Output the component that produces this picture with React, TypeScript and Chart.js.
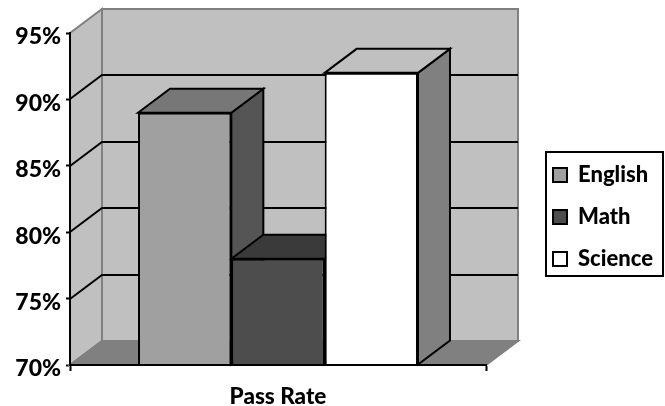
import React, { useEffect, useRef } from "react";
import { Chart, registerables } from "chart.js";

Chart.register(...registerables);

const categories = ["Pass Rate"];
const seriesNames = ["English", "Math", "Science"];
const english = [89];
const math = [78];
const science = [92];
const axisMin = 70;
const axisMax = 95;
const axisStep = 5;
const frontColors = ["#a0a0a0", "#4d4d4d", "#ffffff"];
const topColors = ["#777777", "#3a3a3a", "#c0c0c0"];
const sideColors = ["#555555", "#404040", "#808080"];

const FONT = "Lato, Carlito, Calibri, sans-serif";
const DEPTH_X = 32;
const DEPTH_Y = 24;

function poly(ctx: CanvasRenderingContext2D, pts: number[][], fill: string | null, stroke: string | null, lw = 2) {
  ctx.beginPath();
  pts.forEach(([x, y], i) => (i ? ctx.lineTo(x, y) : ctx.moveTo(x, y)));
  ctx.closePath();
  if (fill) {
    ctx.fillStyle = fill;
    ctx.fill();
  }
  if (stroke) {
    ctx.strokeStyle = stroke;
    ctx.lineWidth = lw;
    ctx.lineJoin = "miter";
    ctx.stroke();
  }
}

const scene3d = {
  id: "scene3d",
  afterLayout(chart: any) {
    const lg = chart.legend;
    if (!lg) return;
    const w = lg.width;
    const h = lg.height;
    lg.left = 533;
    lg.right = 533 + w;
    lg.top = 217 - h / 2;
    lg.bottom = 217 + h / 2;
  },
  beforeDraw(chart: any) {
    const ctx = chart.ctx;
    // nudge the y tick labels down, as in the reference
    const yScale = chart.scales.y;
    if (!yScale.$nudged) {
      yScale.getLabelItems(chart.chartArea).forEach((it: any) => {
        it.textOffset += 4;
      });
      yScale.$nudged = true;
    }
    ctx.save();
    ctx.fillStyle = "#ffffff";
    ctx.fillRect(0, 0, chart.width, chart.height);
    ctx.strokeStyle = "#000";
    ctx.lineWidth = 2;
    ctx.strokeRect(546, 152, 117, 124);
    ctx.restore();
  },
  beforeDatasetsDraw(chart: any) {
    const ctx: CanvasRenderingContext2D = chart.ctx;
    const { left, right, top, bottom } = chart.chartArea;
    const y = chart.scales.y;
    ctx.save();
    // walls and floor
    poly(ctx, [[left + DEPTH_X, top - DEPTH_Y], [right + DEPTH_X, top - DEPTH_Y], [right + DEPTH_X, bottom - DEPTH_Y], [left + DEPTH_X, bottom - DEPTH_Y]], "#c0c0c0", "#808080");
    poly(ctx, [[left, top], [left + DEPTH_X, top - DEPTH_Y], [left + DEPTH_X, bottom - DEPTH_Y], [left, bottom]], "#c0c0c0", "#808080");
    poly(ctx, [[left, bottom], [left + DEPTH_X, bottom - DEPTH_Y], [right + DEPTH_X, bottom - DEPTH_Y], [right, bottom]], "#808080", "#808080");
    // gridlines on side and back wall
    ctx.strokeStyle = "#000";
    ctx.lineWidth = 2;
    y.ticks.forEach((t: any) => {
      if (t.value <= y.min || t.value >= y.max) return;
      const py = Math.round(y.getPixelForValue(t.value));
      ctx.beginPath();
      ctx.moveTo(left, py);
      ctx.lineTo(left + DEPTH_X, py - DEPTH_Y);
      ctx.lineTo(right + DEPTH_X, py - DEPTH_Y);
      ctx.stroke();
    });
    // side and top faces of bars
    chart.data.datasets.forEach((_: any, i: number) => {
      const bar = chart.getDatasetMeta(i).data[0];
      const l = bar.x - bar.width / 2;
      const r = bar.x + bar.width / 2;
      poly(ctx, [[r, bar.y], [r + DEPTH_X, bar.y - DEPTH_Y], [r + DEPTH_X, bar.base - DEPTH_Y], [r, bar.base]], sideColors[i], "#000");
      poly(ctx, [[l, bar.y], [l + DEPTH_X, bar.y - DEPTH_Y], [r + DEPTH_X, bar.y - DEPTH_Y], [r, bar.y]], topColors[i], "#000");
    });
    ctx.restore();
  },
};

export default function App() {
  const ref = useRef<HTMLCanvasElement>(null);
  useEffect(() => {
    const chart = new Chart(ref.current as HTMLCanvasElement, {
      type: "bar",
      data: {
        labels: categories,
        datasets: [english, math, science].map((d, i) => ({
          label: seriesNames[i],
          data: d,
          base: axisMin,
          backgroundColor: frontColors[i],
          borderColor: "#000000",
          borderWidth: 2,
          categoryPercentage: 0.673,
          barPercentage: 1,
          clip: false,
        })),
      },
      options: {
        responsive: false,
        animation: false,
        devicePixelRatio: 1,
        layout: { padding: { left: 0, top: 33, right: 179, bottom: 0 } },
        plugins: {
          title: { display: false },
          tooltip: { enabled: false },
          legend: {
            display: true,
            position: "chartArea" as any,
            align: "center",
            labels: {
              color: "#000",
              boxWidth: 14,
              boxHeight: 14,
              padding: 20,
              font: { family: FONT, size: 22, weight: "900" },
            },
          },
        },
        scales: {
          x: {
            offset: true,
            afterFit: (s: any) => {
              s.height = 41;
            },
            border: { color: "#000", width: 2, z: 2 },
            grid: { offset: true, drawOnChartArea: false, drawTicks: true, tickLength: 6, tickColor: "#000", tickWidth: 2 },
            ticks: { color: "#000", padding: 12, maxRotation: 0, font: { family: FONT, size: 22.5, weight: "900" } },
          },
          y: {
            min: axisMin,
            max: axisMax,
            afterFit: (s: any) => {
              s.width = 70;
            },
            border: { color: "#000", width: 2, z: 2 },
            grid: { drawOnChartArea: false, drawTicks: true, tickLength: 4, tickColor: "#000", tickWidth: 2 },
            ticks: {
              stepSize: axisStep,
              color: "#000",
              padding: 5,
              font: { family: FONT, size: 23, weight: "900" },
              callback: (v: any) => `${v}%`,
            },
          },
        },
      },
      plugins: [scene3d as any],
    });
    return () => chart.destroy();
  }, []);
  return (
    <div style={{ position: "fixed", left: 0, top: 0, width: 665, height: 406 }}>
      <canvas ref={ref} width={665} height={406} style={{ display: "block" }} />
    </div>
  );
}
